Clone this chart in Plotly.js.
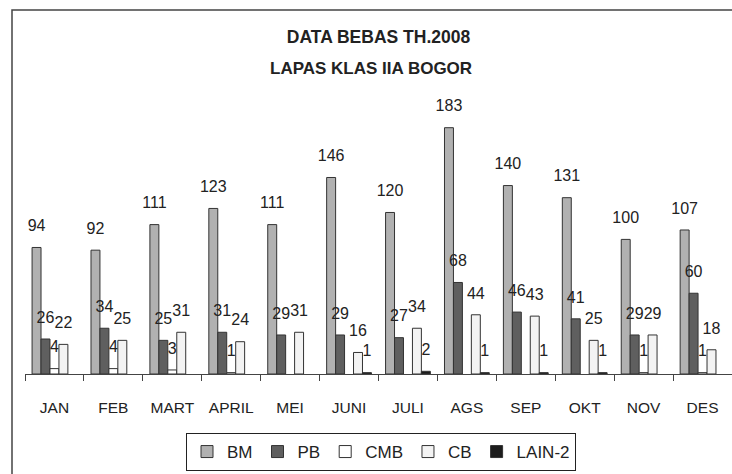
<!DOCTYPE html>
<html>
<head>
<meta charset="utf-8">
<script src="https://cdn.plot.ly/plotly-3.0.1.min.js"></script>
<style>html,body{margin:0;padding:0;background:#fff;}#chart{width:732px;height:474px;}</style>
</head>
<body>
<div id="chart"></div>
<script>
var months = ["JAN","FEB","MART","APRIL","MEI","JUNI","JULI","AGS","SEP","OKT","NOV","DES"];
var seriesNames = ["BM","PB","CMB","CB","LAIN-2"];
var bm   = [94, 92, 111, 123, 111, 146, 120, 183, 140, 131, 100, 107];
var pb   = [26, 34, 25, 31, 29, 29, 27, 68, 46, 41, 29, 60];
var cmb  = [4, 4, 3, 1, null, null, null, null, null, null, 1, 1];
var cb   = [22, 25, 31, 24, 31, 16, 34, 44, 43, 25, 29, 18];
var lain = [null, null, null, null, null, 1, 2, 1, 1, 1, null, null];
var titleLine1 = "DATA BEBAS TH.2008";
var titleLine2 = "LAPAS KLAS IIA BOGOR";

var FONT = "'Liberation Sans', Arial, sans-serif";
var fills = ["#b1b1b1", "#5f5f5f", "#ffffff", "#f3f3f3", "#1c1c1c"];
var allVals = [bm, pb, cmb, cb, lain];
var GAP = 0.24;

var traces = allVals.map(function (vals, i) {
  return {
    type: "bar",
    name: seriesNames[i],
    x: months,
    y: vals,
    marker: {color: fills[i], line: {color: "#333", width: 1}},
    hoverinfo: "x+y+name"
  };
});
allVals.forEach(function (vals, i) {
  traces.push({
    type: "scatter",
    mode: "markers+text",
    name: seriesNames[i],
    showlegend: false,
    x: months,
    y: vals,
    text: vals.map(function (v) { return v == null ? "" : String(v); }),
    textposition: "top center",
    marker: {size: 18, opacity: 0, color: "#ffffff"},
    textfont: {family: FONT, size: 16, color: "#222"},
    cliponaxis: false,
    hoverinfo: "skip"
  });
});

var L = 25, T = 90, W = 732, H = 474;
var plotW = W - L, plotH = 374 - T;
function px(xpix) { return (xpix - L) / plotW; }
function py(ypix) { return (374 - ypix) / plotH; }

var layout = {
  width: W, height: H,
  margin: {l: L, r: 0, t: T, b: H - 374, pad: 0},
  paper_bgcolor: "#ffffff",
  plot_bgcolor: "rgba(0,0,0,0)",
  barmode: "group",
  bargap: GAP,
  bargroupgap: 0,
  scattermode: "group",
  scattergap: GAP,
  showlegend: true,
  font: {family: FONT, color: "#222"},
  title: {
    text: "<b>" + titleLine1 + "</b>",
    font: {family: FONT, size: 17.5, color: "#222"},
    xref: "paper", x: 0.5, xanchor: "center",
    yref: "container", y: 1 - 37 / H, yanchor: "middle"
  },
  annotations: [{
    text: "<b>" + titleLine2 + "</b>",
    font: {family: FONT, size: 17, color: "#222"},
    xref: "paper", yref: "paper", x: 0.49, y: py(68),
    xanchor: "center", yanchor: "middle", showarrow: false
  }],
  xaxis: {
    type: "category",
    showline: true, linecolor: "#444", linewidth: 1,
    ticks: "outside", tickson: "boundaries", ticklen: 6, tickcolor: "#444",
    tickangle: 0,
    ticklabelstandoff: 19,
    tickfont: {family: FONT, size: 15.5, color: "#222"},
    showgrid: false, zeroline: false, fixedrange: true
  },
  yaxis: {
    range: [0, 211],
    showline: false, showgrid: false, zeroline: false,
    showticklabels: false, ticks: "", fixedrange: true
  },
  legend: {
    orientation: "h",
    x: px(381), xanchor: "center",
    y: py(433), yanchor: "top",
    bordercolor: "#222", borderwidth: 1,
    bgcolor: "#ffffff",
    font: {family: FONT, size: 17, color: "#222"},
    itemclick: false, itemdoubleclick: false
  },
  shapes: [{
    type: "rect", xref: "paper", yref: "paper",
    x0: px(12), x1: px(760), y0: py(520), y1: py(10),
    line: {color: "#444", width: 1.5}, fillcolor: "rgba(0,0,0,0)", layer: "below"
  }]
};

Plotly.newPlot("chart", traces, layout, {displayModeBar: false, staticPlot: true});
</script>
</body>
</html>
